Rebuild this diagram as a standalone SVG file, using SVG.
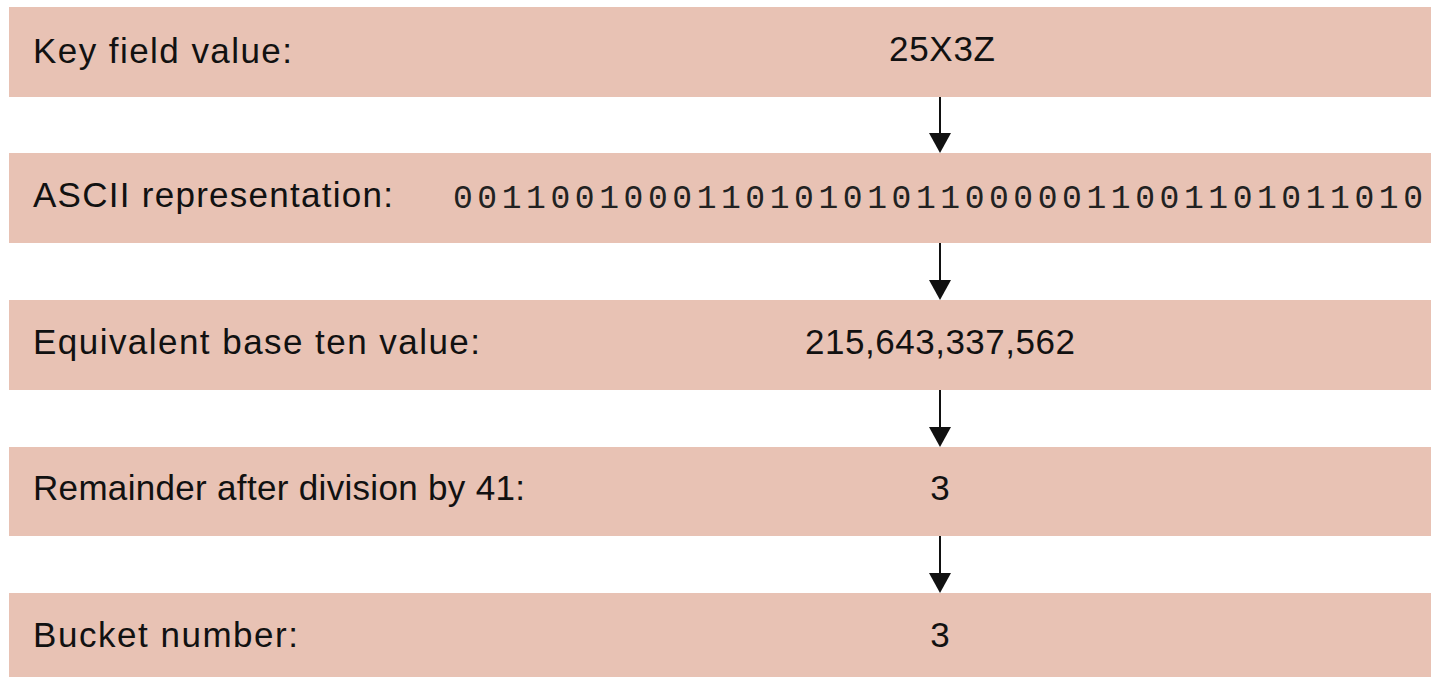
<svg xmlns="http://www.w3.org/2000/svg" width="1431" height="677" viewBox="0 0 1431 677">
  <style>
    .band { fill: #E8C2B4; }
    .label { font-family: "Liberation Sans", Arial, sans-serif; font-size: 35px; fill: #111; }
    .value { font-family: "Liberation Sans", Arial, sans-serif; font-size: 35px; fill: #111; text-anchor: middle; }
    .bits { font-family: "Liberation Mono", "Courier New", monospace; font-size: 33px; fill: #222; }
    .arrowhead { fill: #111; stroke: none; }
  </style>
  <rect width="1431" height="677" fill="#ffffff"/>

  <g id="key-field">
    <rect class="band" x="9" y="7" width="1422" height="90"/>
    <text class="label" x="33" y="63" textLength="259" lengthAdjust="spacing">Key field value:</text>
    <text class="value" x="942" y="61" textLength="106" lengthAdjust="spacing">25X3Z</text>
  </g>

  <g id="ascii">
    <rect class="band" x="9" y="153" width="1422" height="90"/>
    <text class="label" x="33" y="207" textLength="360" lengthAdjust="spacing">ASCII representation:</text>
    <text class="bits" x="453" y="208" textLength="970" lengthAdjust="spacing">0011001000110101010110000011001101011010</text>
  </g>

  <g id="base-ten">
    <rect class="band" x="9" y="300" width="1422" height="90"/>
    <text class="label" x="33" y="354" textLength="447" lengthAdjust="spacing">Equivalent base ten value:</text>
    <text class="value" x="940" y="354" textLength="270" lengthAdjust="spacing">215,643,337,562</text>
  </g>

  <g id="remainder">
    <rect class="band" x="9" y="447" width="1422" height="89"/>
    <text class="label" x="33" y="500" textLength="492" lengthAdjust="spacing">Remainder after division by 41:</text>
    <text class="value" x="940" y="500">3</text>
  </g>

  <g id="bucket">
    <rect class="band" x="9" y="593" width="1422" height="84"/>
    <text class="label" x="33" y="647" textLength="265" lengthAdjust="spacing">Bucket number:</text>
    <text class="value" x="940" y="647">3</text>
  </g>

  <!-- downward arrows between stages -->
  <g id="connectors" stroke="#111" stroke-width="2">
    <line x1="940" y1="97" x2="940" y2="136"/>
    <polygon class="arrowhead" points="929,133 951,133 940,153"/>
    <line x1="940" y1="243" x2="940" y2="283"/>
    <polygon class="arrowhead" points="929,280 951,280 940,300"/>
    <line x1="940" y1="390" x2="940" y2="430"/>
    <polygon class="arrowhead" points="929,427 951,427 940,447"/>
    <line x1="940" y1="536" x2="940" y2="576"/>
    <polygon class="arrowhead" points="929,573 951,573 940,593"/>
  </g>
</svg>
